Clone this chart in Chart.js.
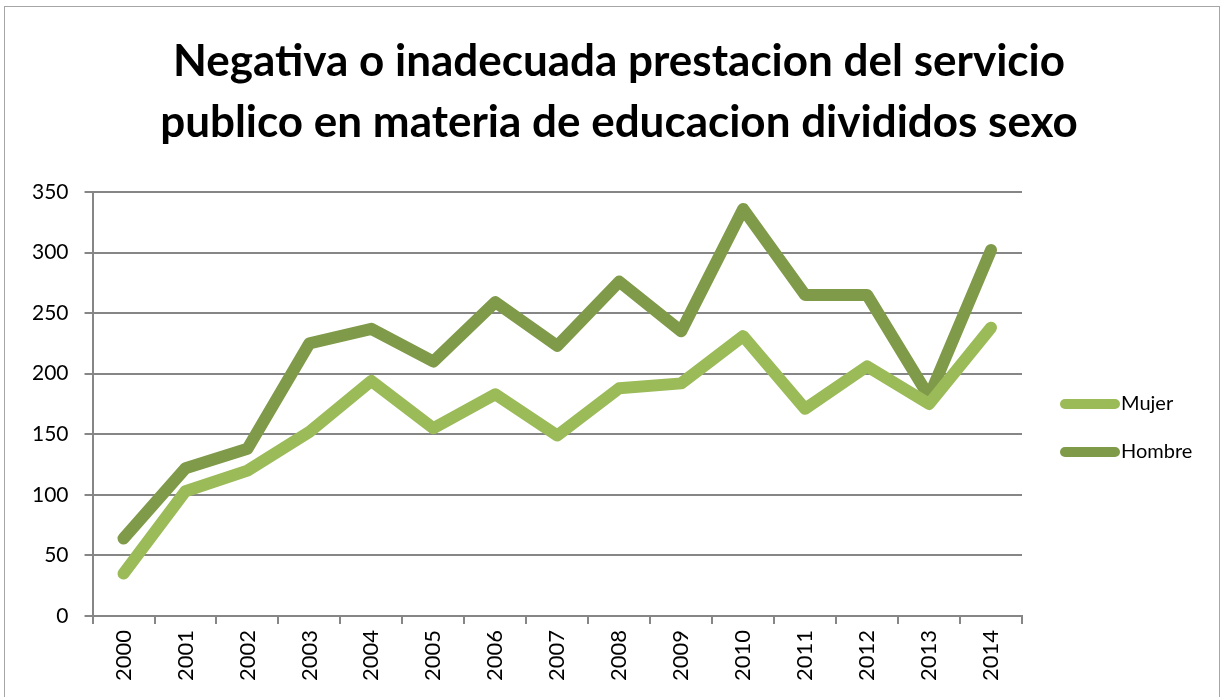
<!DOCTYPE html>
<html>
<head>
<meta charset="utf-8">
<script src="https://cdn.jsdelivr.net/npm/chart.js@4"></script>
<style>
    body { margin: 0; background: #ffffff; }
    #frame {
        position: absolute;
        left: 4px;
        top: 6px;
        width: 1216px;
        height: 700px;
        border: 1px solid #a6a6a6;
        box-sizing: border-box;
    }
    #chartBox {
        position: absolute;
        left: 0;
        top: 0;
        width: 1224px;
        height: 697px;
    }
</style>
</head>
<body>
<div id="frame"></div>
<div id="chartBox"><canvas id="lineChart"></canvas></div>
<script>
// --------------------------------------------
// Data
// --------------------------------------------

const years = ["2000", "2001", "2002", "2003", "2004", "2005", "2006", "2007",
    "2008", "2009", "2010", "2011", "2012", "2013", "2014"];

const mujer = [35, 103, 120, 152, 194, 155, 183, 149, 188, 192, 231, 171, 206, 175, 238];

const hombre = [64, 122, 138, 225, 237, 210, 259, 223, 276, 235, 336, 265, 265, 181, 302];

const titleLines = [
    "Negativa o inadecuada prestacion del servicio",
    "publico en materia de educacion divididos sexo"
];

const gridColor = "#868686";

const fontFamily = "Lato, 'Open Sans', sans-serif";


// --------------------------------------------
// Legend drawn beside the plot (Excel style)
// --------------------------------------------

const sideLegend = {

    id: "sideLegend",

    afterDraw(chart) {

        const ctx = chart.ctx;
        const area = chart.chartArea;
        const mid = (area.top + area.bottom) / 2;

        chart.data.datasets.forEach((ds, i) => {

            const y = mid + i * 48;
            const x0 = area.right + 43;
            const x1 = area.right + 93;

            ctx.save();
            ctx.strokeStyle = ds.borderColor;
            ctx.lineWidth = 10;
            ctx.lineCap = "round";
            ctx.beginPath();
            ctx.moveTo(x0, y);
            ctx.lineTo(x1, y);
            ctx.stroke();

            ctx.fillStyle = "#000000";
            ctx.font = "20px " + fontFamily;
            ctx.textBaseline = "middle";
            ctx.textAlign = "left";
            ctx.fillText(ds.label, area.right + 99, y);
            ctx.restore();

        });

    }

};


// --------------------------------------------
// Chart
// --------------------------------------------

new Chart(document.getElementById("lineChart"), {

    type: "line",

    data: {
        labels: years,
        datasets: [
            {
                label: "Mujer",
                data: mujer,
                borderColor: "#9bbb59",
                backgroundColor: "#9bbb59",
                borderWidth: 12,
                pointRadius: 0,
                tension: 0,
                borderCapStyle: "round",
                borderJoinStyle: "round"
            },
            {
                label: "Hombre",
                data: hombre,
                borderColor: "#7f9a48",
                backgroundColor: "#7f9a48",
                borderWidth: 12,
                pointRadius: 0,
                tension: 0,
                borderCapStyle: "round",
                borderJoinStyle: "round"
            }
        ]
    },

    options: {
        responsive: true,
        maintainAspectRatio: false,
        animation: false,
        layout: {
            padding: { left: 16, right: 2, top: 31, bottom: 10 }
        },
        plugins: {
            title: {
                display: true,
                text: titleLines,
                color: "#000000",
                font: { family: fontFamily, size: 44, weight: "bold", lineHeight: 1.386 },
                padding: { top: 0, bottom: 39 }
            },
            legend: { display: false },
            tooltip: { enabled: false }
        },
        scales: {
            x: {
                offset: true,
                grid: {
                    offset: true,
                    drawOnChartArea: false,
                    color: gridColor,
                    lineWidth: 2,
                    tickLength: 8
                },
                border: { color: gridColor, width: 2 },
                ticks: {
                    color: "#000000",
                    font: { family: fontFamily, size: 22 },
                    minRotation: 90,
                    maxRotation: 90,
                    padding: 6
                }
            },
            y: {
                min: 0,
                max: 350,
                grid: {
                    color: gridColor,
                    lineWidth: 2,
                    tickLength: 8
                },
                border: { color: gridColor, width: 2 },
                ticks: {
                    stepSize: 50,
                    color: "#000000",
                    font: { family: fontFamily, size: 21 },
                    padding: 16
                }
            },
            legendSpace: {
                type: "linear",
                position: "right",
                display: true,
                grid: { display: false },
                border: { display: false },
                ticks: { display: false },
                afterFit(scale) {
                    scale.width = 200;
                }
            }
        }
    },

    plugins: [sideLegend]

});
</script>
</body>
</html>
